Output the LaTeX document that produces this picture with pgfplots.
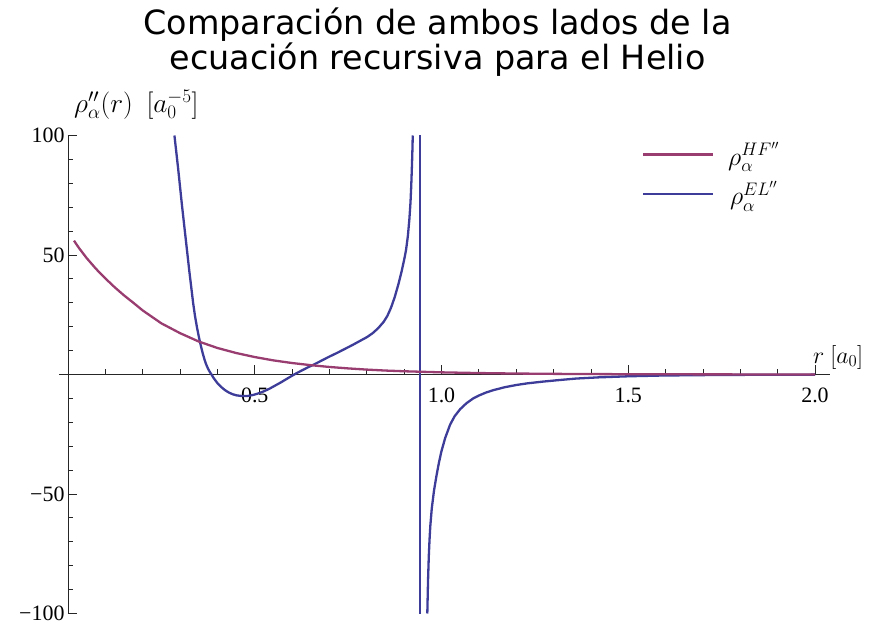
\RequirePackage{fix-cm}
\documentclass[border=0pt]{standalone}
\usepackage{fontspec}
\setmainfont{Liberation Serif}
\newfontfamily\titlefont{DejaVu Sans}
\usepackage{pgfplots}
\pgfplotsset{compat=1.18}
\definecolor{elblue}{rgb}{0.24,0.24,0.6}
\definecolor{hfpurple}{rgb}{0.6,0.24,0.442}

\begin{document}
\begin{tikzpicture}
\begin{axis}[
  scale only axis, width=770.9bp, height=478bp,
  xmin=-0.024, xmax=2.04, ymin=-100, ymax=100,
  enlargelimits=false, clip=false,
  axis lines=middle,
  axis line style={-, black!85, line width=0.9bp},
  tick align=inside,
  major tick length=9bp, minor tick length=5bp,
  every tick/.style={black!85, line width=0.8bp},
  xtick={0.5,1,1.5,2}, xticklabels={0.5,1.0,1.5,2.0},
  minor xtick={0.1,0.2,0.3,0.4,0.6,0.7,0.8,0.9,1.1,1.2,1.3,1.4,1.6,1.7,1.8,1.9},
  ytick={-100,-50,50,100}, yticklabels={−100,−50,50,100},
  minor ytick={-90,-80,-70,-60,-40,-30,-20,-10,10,20,30,40,60,70,80,90},
  ticklabel style={font=\fontsize{22}{22}\selectfont},
  xticklabel style={yshift=-10bp},
  xlabel={$r\ [a_0]$}, ylabel={$\rho''_\alpha(r)\ \ [a_0^{-5}]$},
  xlabel style={at={(axis cs:2.062,4.8)}, anchor=base, font=\fontsize{24}{24}\selectfont},
  ylabel style={at={(axis cs:0.183,109.8)}, anchor=base, rotate=0, font=\fontsize{27.5}{27.5}\selectfont},
  legend style={draw=none, fill=none, at={(axis cs:1.528,99)}, anchor=north west,
    font=\fontsize{26}{26}\selectfont, row sep=11bp},
  legend image code/.code={\draw[#1] (0bp,0bp) -- (70bp,0bp); \path (82bp,0bp);},
  legend cell align=center,
  reverse legend,
  every axis plot/.append style={line width=2.3bp, line join=round},
]
\coordinate (O) at (axis cs:0,0);
% EL: left branch
\addplot[elblue] coordinates {
(0.285,100) (0.290,93) (0.295,86) (0.300,78.5) (0.305,71) (0.310,64) (0.315,57)
(0.320,50) (0.325,43) (0.330,36.5) (0.335,30) (0.340,24.5) (0.345,20) (0.350,16)
(0.355,12.5) (0.360,9.3) (0.365,6.5) (0.370,4.2) (0.375,2.4) (0.380,1.0) (0.385,-0.2)
(0.390,-1.5) (0.400,-3.6) (0.410,-5.2) (0.420,-6.5) (0.430,-7.5) (0.440,-8.2)
(0.450,-8.7) (0.465,-9.0) (0.480,-9.0) (0.495,-8.6) (0.510,-7.9) (0.525,-7.0)
(0.540,-5.9) (0.555,-4.6) (0.570,-3.3) (0.585,-1.9) (0.600,-0.5) (0.615,0.8)
(0.630,2.0) (0.645,3.2) (0.660,4.3) (0.680,5.9) (0.700,7.5) (0.720,9.0) (0.740,10.6)
(0.760,12.2) (0.780,13.9) (0.800,15.6) (0.815,17.2) (0.830,19.3) (0.845,22.0)
(0.855,24.5) (0.865,28) (0.875,32.5) (0.885,38) (0.893,43) (0.900,48) (0.905,52)
(0.910,58) (0.914,65) (0.917,72) (0.919,79) (0.921,88) (0.9225,96) (0.923,100)
};
\addlegendentry{$\rho_\alpha^{EL''}$}
% EL: jump across the pole
\addplot[elblue, forget plot] coordinates {(0.9424,100) (0.9424,-100)};
% EL: right branch
\addplot[elblue, forget plot] coordinates {
(0.962,-100) (0.964,-86) (0.966,-76) (0.968,-69) (0.970,-63.5) (0.974,-56)
(0.980,-48.5) (0.987,-42) (0.993,-37) (1.000,-32) (1.010,-26.5) (1.023,-21)
(1.035,-17.5) (1.050,-14.5) (1.067,-12) (1.085,-10) (1.100,-8.8) (1.120,-7.5)
(1.140,-6.5) (1.170,-5.3) (1.200,-4.4) (1.230,-3.7) (1.270,-3.0) (1.310,-2.4)
(1.360,-1.7) (1.420,-1.2) (1.500,-0.75) (1.585,-0.45) (1.680,-0.28) (1.780,-0.17)
(1.880,-0.1) (2.000,-0.06)
};
% HF
\addplot[hfpurple] coordinates {
(0.016,56) (0.03,52.8) (0.05,48.7) (0.075,44.2) (0.1,40.2) (0.125,36.5) (0.15,33.1)
(0.175,30.0) (0.2,26.8) (0.25,21.4) (0.3,17.3) (0.35,13.8) (0.4,11.1) (0.45,9.0)
(0.5,7.3) (0.55,5.9) (0.6,4.8) (0.65,3.9) (0.7,3.15) (0.75,2.55) (0.8,2.05)
(0.85,1.65) (0.9,1.35) (1.0,0.9) (1.1,0.6) (1.2,0.4) (1.3,0.27) (1.4,0.18)
(1.5,0.12) (1.6,0.08) (1.7,0.055) (1.8,0.037) (1.9,0.025) (2.0,0.017)
};
\addlegendentry{$\rho_\alpha^{HF''}$}
\end{axis}
\node[font=\titlefont\fontsize{33.5}{33}\selectfont, align=center, anchor=center]
  at ([shift={(369.5bp,332.5bp)}]O) {Comparación de ambos lados de la\\ecuación recursiva para el Helio};
\pgfresetboundingbox
\path[use as bounding box] ([shift={(-68bp,-252.5bp)}]O) rectangle ([shift={(807bp,374.5bp)}]O);
\end{tikzpicture}
\end{document}
